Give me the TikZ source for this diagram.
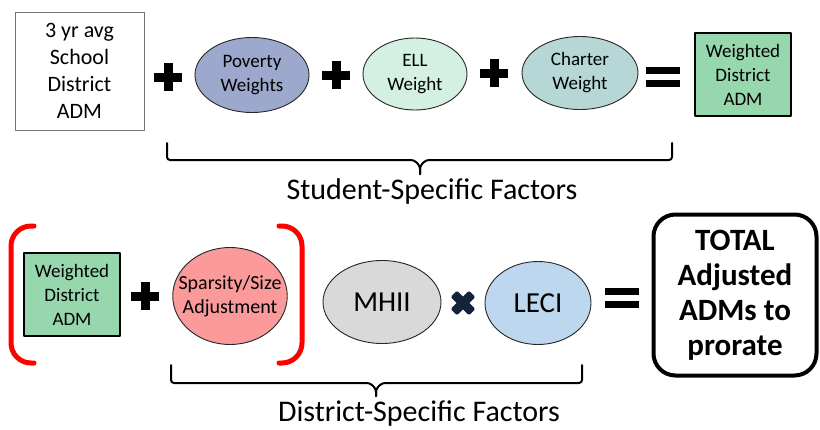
\documentclass[tikz,border=0pt]{standalone}
\usepackage{fontspec}
\setmainfont{Carlito}
\usetikzlibrary{shapes.geometric}
\definecolor{povfill}{RGB}{157,168,205}
\definecolor{ellfill}{RGB}{212,240,227}
\definecolor{chartfill}{RGB}{182,215,214}
\definecolor{wadmfill}{RGB}{151,215,174}
\definecolor{sparsfill}{RGB}{250,154,154}
\definecolor{mhiifill}{RGB}{217,217,217}
\definecolor{lecifill}{RGB}{189,215,238}
\definecolor{crossblue}{RGB}{20,35,60}
\tikzset{
  factor/.style={ellipse,draw=black!85,line width=0.9pt,inner sep=0pt,align=center,
    font=\fontsize{19}{24}\selectfont},
  admbox/.style={rectangle,draw=black,line width=1.2pt,inner sep=0pt,align=center,
    fill=wadmfill,minimum width=96pt,minimum height=83pt,font=\fontsize{19}{24}\selectfont},
  brace/.style={line width=2pt,rounded corners=3pt},
  redbracket/.style={red,line width=5pt,rounded corners=20pt},
  plussign/.pic={\fill (-14,-4.5) rectangle (14,4.5); \fill (-4.5,-14) rectangle (4.5,14);},
  eqsign/.pic={\fill (-17,-10) rectangle (17,-3); \fill (-17,3) rectangle (17,10);},
  timessign/.pic={\fill[crossblue,rotate=45,rounded corners=1.5pt] (-13,-4.5) rectangle (13,4.5);
    \fill[crossblue,rotate=45,rounded corners=1.5pt] (-4.5,-13) rectangle (4.5,13);}
}
\begin{document}
\begin{tikzpicture}[line cap=round,line join=round,x=1pt,y=-1pt]
\useasboundingbox (0,0) rectangle (820,429);
% top row
\node[rectangle,draw=black!55,line width=1pt,minimum width=129pt,minimum height=118pt,
  align=center,font=\fontsize{22}{27}\selectfont] (avgadm) at (79.5,71) {3 yr avg\\School\\District\\ADM};
\node[factor,fill=povfill,minimum width=114pt,minimum height=75pt] (poverty) at (252,75) {Poverty\\Weights};
\node[factor,fill=ellfill,minimum width=104pt,minimum height=72pt] (ell) at (415,74) {ELL\\Weight};
\node[factor,fill=chartfill,minimum width=116pt,minimum height=73pt] (charter) at (580,73) {Charter\\Weight};
\node[admbox] (wadm) at (743,74.5) {Weighted\\District\\ADM};
\pic at (168,77) {plussign};
\pic at (336,75) {plussign};
\pic at (494,73) {plussign};
\pic at (663,77) {eqsign};
% student brace
\coordinate (sbl) at (167,143);
\coordinate (sbr) at (672,143);
\coordinate (sbm) at (420,174);
\draw[brace] (sbl) -- (167,160) -- (414,160) -- (420,166) -- (sbm);
\draw[brace] (sbm) -- (420,166) -- (426,160) -- (672,160) -- (sbr);
\node[font=\fontsize{30}{34}\selectfont] (studlabel) at (432,191) {Student-Specific Factors};
% bottom row
\draw[redbracket] (34,226) -- (11,226) -- (11,363) -- (34,363);
\draw[redbracket] (279,226) -- (302,226) -- (302,363) -- (279,363);
\node[admbox] (wadm2) at (72,294.5) {Weighted\\District\\ADM};
\node[factor,fill=sparsfill,minimum width=114pt,minimum height=97pt,inner xsep=-11pt,
  font=\fontsize{20}{24}\selectfont] (sparsity) at (230,296) {Sparsity/Size\\Adjustment};
\node[factor,fill=mhiifill,minimum width=118pt,minimum height=83pt,
  font=\fontsize{29}{30}\selectfont] (mhii) at (382,302) {MHII};
\node[factor,fill=lecifill,minimum width=106pt,minimum height=83pt,
  font=\fontsize{29}{30}\selectfont] (leci) at (538,303) {LECI};
\node[rectangle,draw=black,line width=4pt,rounded corners=22pt,minimum width=163pt,
  minimum height=161pt,align=center,font=\bfseries\fontsize{31}{35}\selectfont] (total) at (735,295)
  {TOTAL\\Adjusted\\ADMs to\\prorate};
\pic at (145,296) {plussign};
\pic at (463,303) {timessign};
\pic at (622,298) {eqsign};
% district brace
\coordinate (dbl) at (171,365);
\coordinate (dbr) at (582,365);
\coordinate (dbm) at (376,396);
\draw[brace] (dbl) -- (171,383) -- (370,383) -- (376,389) -- (dbm);
\draw[brace] (dbm) -- (376,389) -- (382,383) -- (582,383) -- (dbr);
\node[font=\fontsize{30}{34}\selectfont] (distlabel) at (419,414) {District-Specific Factors};
\end{tikzpicture}
\end{document}
